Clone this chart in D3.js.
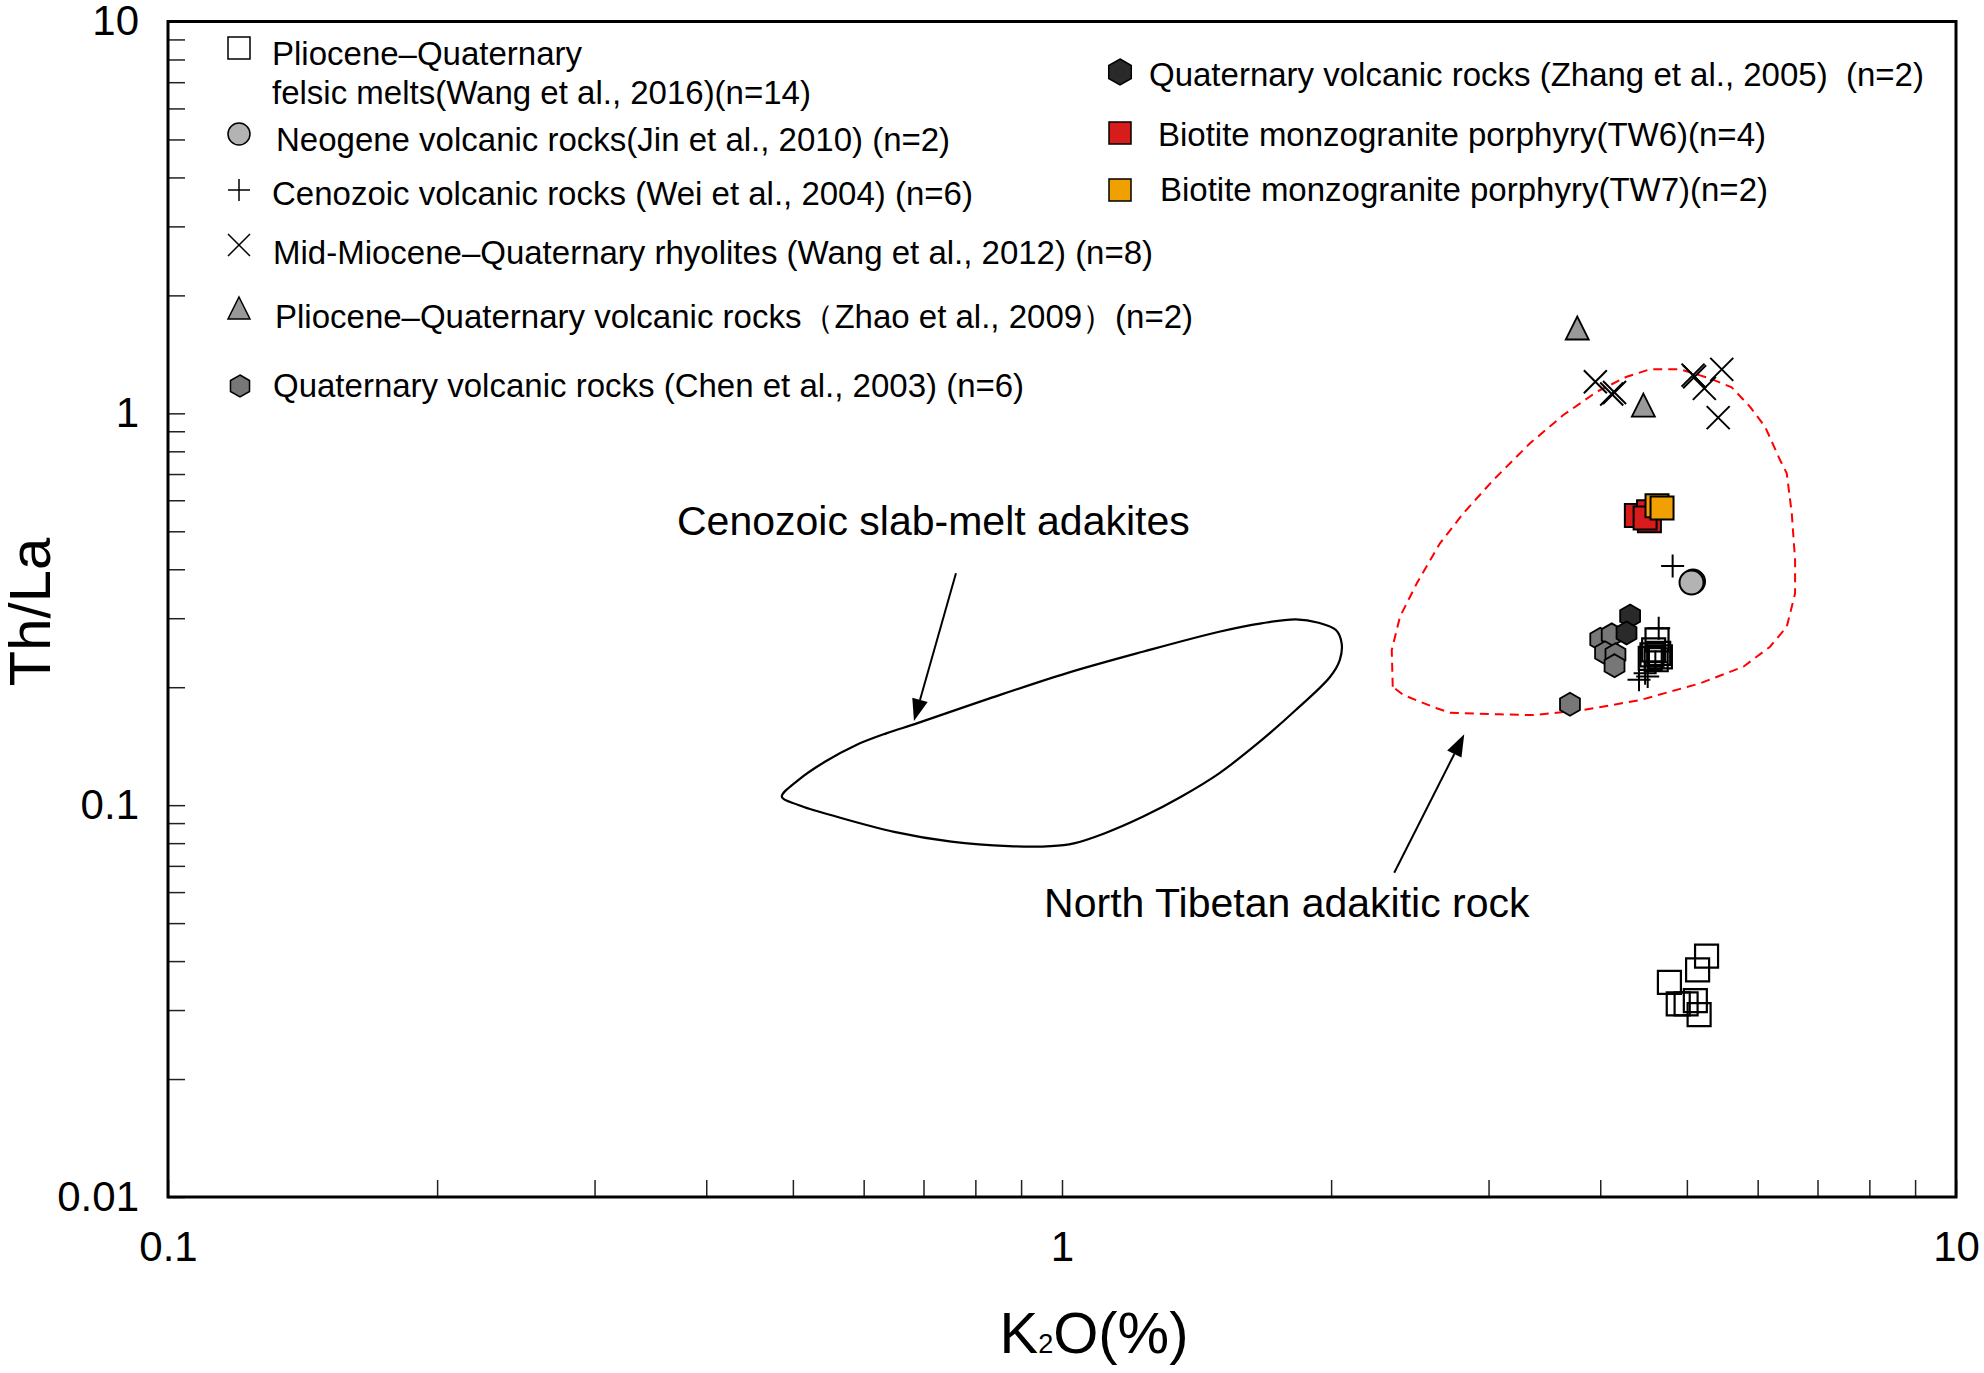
<!DOCTYPE html>
<html>
<head>
<meta charset="utf-8">
<script src="https://cdn.jsdelivr.net/npm/d3@7"></script>
<style>
  body { margin: 0; background: #fff; }
  text { font-family: "Liberation Sans", Arial, sans-serif; fill: #000; }
  .tick line { stroke: #222; stroke-width: 1.5; }
  .tick text { font-size: 42px; font-family: "Liberation Sans", Arial, sans-serif; }
  .legend text { font-size: 33px; white-space: pre; }
</style>
</head>
<body>
<script>
// data: [K2O %, Th/La]
var wang2016 = [[4.63,0.264],[4.59,0.249],[4.57,0.242],[4.65,0.244],[4.62,0.235],[4.67,0.239],[4.55,0.237],
                [5.26,0.0412],[5.14,0.0380],[4.78,0.0353],[4.89,0.0311],[4.99,0.0311],[5.11,0.0317],[5.16,0.0292]];
var jin2010 = [[5.08,0.372],[5.06,0.370]];
var wei2004 = [[4.82,0.408],[4.65,0.283],[4.42,0.209],[4.52,0.213],[4.49,0.217],[4.61,0.232]];
var wang2012 = [[3.95,1.204],[4.12,1.12],[4.15,1.13],[5.08,1.252],[5.23,1.158],[5.47,1.295],[5.42,0.975],[5.10,1.24]];
var zhao2009 = [[3.77,1.651],[4.47,1.05]];
var chen2003 = [[4.00,0.265],[4.12,0.272],[4.05,0.245],[4.16,0.242],[4.15,0.227],[3.70,0.181]];
var zhang2005 = [[4.32,0.304],[4.28,0.275]];
var tw6 = [[4.39,0.549],[4.53,0.561],[4.54,0.532],[4.49,0.541]];
var tw7 = [[4.63,0.581],[4.69,0.573]];

// fields
var slabMelt = [[0.486,0.1051],[0.507,0.1159],[0.543,0.1291],[0.588,0.1423],[0.636,0.1525],[0.688,0.1617],
  [0.830,0.1873],[1.011,0.2170],[1.231,0.2463],[1.499,0.2771],[1.671,0.2911],[1.826,0.2980],[1.937,0.2921],
  [2.025,0.2798],[2.055,0.2588],[2.045,0.2346],[1.995,0.2127],[1.826,0.1749],[1.655,0.1437],[1.499,0.1206],
  [1.359,0.1051],[1.231,0.0934],[1.115,0.0847],[1.031,0.0799],[0.972,0.0786],[0.872,0.0786],[0.752,0.0807],
  [0.649,0.0855],[0.560,0.0934],[0.507,0.1001]];
var northTibet = [[2.344,0.2006],[2.338,0.2488],[2.388,0.3027],[2.494,0.3683],[2.647,0.4658],[2.811,0.5555],
  [3.037,0.6758],[3.338,0.8385],[3.637,0.990],[3.965,1.135],[4.282,1.240],[4.547,1.295],[4.913,1.295],
  [5.306,1.228],[5.612,1.165],[5.884,1.039],[6.116,0.924],[6.356,0.760],[6.467,0.703],[6.551,0.5555],
  [6.607,0.4222],[6.607,0.3472],[6.467,0.2853],[6.194,0.2537],[5.783,0.2256],[5.172,0.2046],[4.431,0.1854],
  [3.830,0.1749],[3.367,0.1698],[3.090,0.1705],[2.716,0.1721],[2.625,0.1767],[2.409,0.1910]];

var arrows = [[[0.761,0.3905],[0.683,0.1639]], [[2.353,0.0672],[2.818,0.1516]]];
var noteText = ["Cenozoic slab-melt adakites", "North Tibetan adakitic rock"];
var notePos = [[0.371,0.489],[0.955,0.0518]];

var xTicks = [0.1,0.2,0.3,0.4,0.5,0.6,0.7,0.8,0.9,1,2,3,4,5,6,7,8,9,10];
var yTicks = [0.01,0.02,0.03,0.04,0.05,0.06,0.07,0.08,0.09,0.1,0.2,0.3,0.4,0.5,0.6,0.7,0.8,0.9,1,2,3,4,5,6,7,8,9,10];
var tickLabels = {0.01:"0.01", 0.1:"0.1", 1:"1", 10:"10"};

var legendLeft = [
  ["Pliocene\u2013Quaternary", "felsic melts(Wang et al., 2016)(n=14)"],
  ["Neogene volcanic rocks(Jin et al., 2010) (n=2)"],
  ["Cenozoic volcanic rocks (Wei et al., 2004) (n=6)"],
  ["Mid-Miocene\u2013Quaternary rhyolites (Wang et al., 2012) (n=8)"],
  ["Pliocene\u2013Quaternary volcanic rocks\uff08Zhao et al., 2009\uff09(n=2)"],
  ["Quaternary volcanic rocks (Chen et al., 2003) (n=6)"]
];
var legendRight = [
  ["Quaternary volcanic rocks (Zhang et al., 2005)  (n=2)"],
  ["Biotite monzogranite porphyry(TW6)(n=4)"],
  ["Biotite monzogranite porphyry(TW7)(n=2)"]
];

// layout
var W = 1984, H = 1373;
var margin = {left: 168, right: 1956, top: 21.5, bottom: 1197};

var svg = d3.select("body").append("svg")
  .attr("width", W).attr("height", H);

var x = d3.scaleLog().domain([0.1, 10]).range([margin.left, margin.right]);
var y = d3.scaleLog().domain([0.01, 10]).range([margin.bottom, margin.top]);

// axes
svg.append("g")
  .attr("transform", "translate(0," + margin.bottom + ")")
  .call(d3.axisBottom(x).tickValues(xTicks).tickSizeInner(-17).tickSizeOuter(0).tickPadding(34)
    .tickFormat(function(d){ return tickLabels[d] || ""; }))
  .call(function(g){ g.select(".domain").remove(); });

svg.append("g")
  .attr("transform", "translate(" + margin.left + ",0)")
  .call(d3.axisLeft(y).tickValues(yTicks).tickSizeInner(-17).tickSizeOuter(0).tickPadding(29)
    .tickFormat(function(d){ return tickLabels[d] || ""; }))
  .call(function(g){ g.select(".domain").remove(); });

svg.append("rect")
  .attr("x", margin.left).attr("y", margin.top)
  .attr("width", margin.right - margin.left).attr("height", margin.bottom - margin.top)
  .attr("fill", "none").attr("stroke", "#000").attr("stroke-width", 3);

// axis titles
svg.append("text")
  .attr("transform", "translate(50,612) rotate(-90)")
  .attr("text-anchor", "middle")
  .style("font-size", "58px")
  .text("Th/La");

var xt = svg.append("text")
  .attr("x", 1094).attr("y", 1353)
  .attr("text-anchor", "middle")
  .style("font-size", "58px");
xt.append("tspan").text("K");
xt.append("tspan").style("font-size", "27px").text("2");
xt.append("tspan").text("O(%)");

// fields
var line = d3.line().x(function(d){ return x(d[0]); }).y(function(d){ return y(d[1]); });

svg.append("path")
  .attr("d", line.curve(d3.curveLinearClosed)(northTibet))
  .attr("fill", "none").attr("stroke", "#ff0000").attr("stroke-width", 2)
  .attr("stroke-dasharray", "9,6");

svg.append("path")
  .attr("d", line.curve(d3.curveCatmullRomClosed.alpha(0.5))(slabMelt))
  .attr("fill", "none").attr("stroke", "#000").attr("stroke-width", 2.2);

// arrows
arrows.forEach(function(a){
  var x0 = x(a[0][0]), y0 = y(a[0][1]), x1 = x(a[1][0]), y1 = y(a[1][1]);
  var ang = Math.atan2(y1 - y0, x1 - x0), len = 22, hw = 8;
  var bx = x1 - len * Math.cos(ang), by = y1 - len * Math.sin(ang);
  svg.append("line")
    .attr("x1", x0).attr("y1", y0).attr("x2", bx).attr("y2", by)
    .attr("stroke", "#000").attr("stroke-width", 2);
  svg.append("path")
    .attr("d", "M" + x1 + "," + y1 +
      "L" + (bx + hw * Math.sin(ang)) + "," + (by - hw * Math.cos(ang)) +
      "L" + (bx - hw * Math.sin(ang)) + "," + (by + hw * Math.cos(ang)) + "Z")
    .attr("fill", "#000");
});

svg.selectAll(".note")
  .data(noteText)
  .enter().append("text")
  .attr("class", "note")
  .attr("x", function(d, i){ return x(notePos[i][0]); })
  .attr("y", function(d, i){ return y(notePos[i][1]); })
  .style("font-size", "41px")
  .text(function(d){ return d; });

// symbol shapes, r = half size
var shapes = {
  square: function(r){ return "M" + -r + "," + -r + "H" + r + "V" + r + "H" + -r + "Z"; },
  circle: function(r){ return "M" + r + ",0A" + r + "," + r + " 0 1,1 " + -r + ",0A" + r + "," + r + " 0 1,1 " + r + ",0Z"; },
  plus: function(r){ return "M" + -r + ",0H" + r + "M0," + -r + "V" + r; },
  times: function(r){ return "M" + -r + "," + -r + "L" + r + "," + r + "M" + -r + "," + r + "L" + r + "," + -r; },
  triangle: function(r){ return "M0," + -r + "L" + r + "," + r + "L" + -r + "," + r + "Z"; },
  hexagon: function(r){
    var p = d3.path();
    d3.range(6).forEach(function(k){
      var a = -Math.PI / 2 + k * Math.PI / 3;
      if (k === 0) p.moveTo(r * Math.cos(a), r * Math.sin(a));
      else p.lineTo(r * Math.cos(a), r * Math.sin(a));
    });
    p.closePath();
    return p.toString();
  }
};

var series = [
  {data: chen2003, shape: "hexagon", r: 11.5, fill: "#777777", sw: 1.8},
  {data: zhang2005, shape: "hexagon", r: 11.5, fill: "#2a2a2a", sw: 1.8},
  {data: wang2016, shape: "square", r: 11.5, fill: "none", sw: 2.2},
  {data: wei2004, shape: "plus", r: 11.5, fill: "none", sw: 2},
  {data: jin2010, shape: "circle", r: 12, fill: "#b3b3b3", sw: 2},
  {data: wang2012, shape: "times", r: 11.5, fill: "none", sw: 2},
  {data: zhao2009, shape: "triangle", r: 11.5, fill: "#999999", sw: 1.8},
  {data: tw6, shape: "square", r: 11.5, fill: "#d81c1c", sw: 2},
  {data: tw7, shape: "square", r: 11.5, fill: "#f0a000", sw: 2}
];

series.forEach(function(s){
  svg.append("g").selectAll("path")
    .data(s.data)
    .enter().append("path")
    .attr("transform", function(d){ return "translate(" + x(d[0]) + "," + y(d[1]) + ")"; })
    .attr("d", shapes[s.shape](s.r))
    .attr("fill", s.fill)
    .attr("stroke", "#000")
    .attr("stroke-width", s.sw);
});

// legend
var legendSym = [
  {shape: "square", r: 11, fill: "#fff", sw: 1.5, x: 239, y: 48, tx: 272, ty: [65, 104]},
  {shape: "circle", r: 11, fill: "#b3b3b3", sw: 1.5, x: 239, y: 134, tx: 276, ty: [151]},
  {shape: "plus", r: 11, fill: "none", sw: 1.5, x: 239, y: 190, tx: 272, ty: [205]},
  {shape: "times", r: 11, fill: "none", sw: 1.5, x: 239, y: 245, tx: 273, ty: [264]},
  {shape: "triangle", r: 11, fill: "#999999", sw: 1.5, x: 239, y: 308, tx: 275, ty: [328]},
  {shape: "hexagon", r: 11, fill: "#777777", sw: 1.5, x: 240, y: 386, tx: 273, ty: [397]},
  {shape: "hexagon", r: 13, fill: "#2a2a2a", sw: 1.5, x: 1120, y: 72, tx: 1149, ty: [86]},
  {shape: "square", r: 11, fill: "#d81c1c", sw: 1.5, x: 1120, y: 133, tx: 1158, ty: [146]},
  {shape: "square", r: 11, fill: "#f0a000", sw: 1.5, x: 1120, y: 190, tx: 1160, ty: [201]}
];
var legendText = legendLeft.concat(legendRight);

var lg = svg.append("g").attr("class", "legend");
legendSym.forEach(function(s, i){
  lg.append("path")
    .attr("transform", "translate(" + s.x + "," + s.y + ")")
    .attr("d", shapes[s.shape](s.r))
    .attr("fill", s.fill).attr("stroke", "#000").attr("stroke-width", s.sw);
  legendText[i].forEach(function(t, j){
    lg.append("text").attr("x", s.tx).attr("y", s.ty[j]).text(t);
  });
});
</script>
</body>
</html>
